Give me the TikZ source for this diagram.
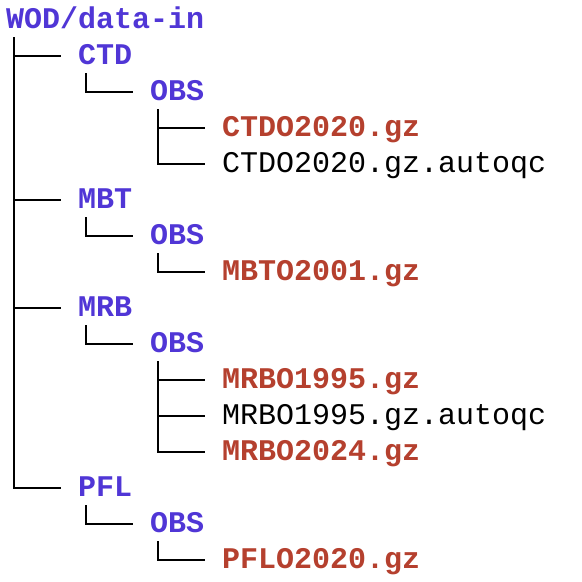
\documentclass[tikz,border=0pt]{standalone}
\usepackage{fontspec}
\newfontfamily\treemono{Liberation Mono}
\definecolor{dirc}{HTML}{5036D6}
\definecolor{gzc}{HTML}{B5402E}
\begin{document}
\begin{tikzpicture}[x=1pt,y=-1pt,
  base/.style={anchor=base west,inner sep=0pt,font=\treemono\fontsize{30}{36}\selectfont},
  dir/.style={base,text=dirc,font=\treemono\bfseries\fontsize{30}{36}\selectfont},
  gz/.style={base,text=gzc,font=\treemono\bfseries\fontsize{30}{36}\selectfont},
  plain/.style={base,text=black},
  tree/.style={draw=black,line width=1.8pt}]
\useasboundingbox (0,0) rectangle (582,582);
\node[dir]   (root) at (6,28)    {WOD/data-in};
\node[dir]   (ctd)  at (78,64)   {CTD};
\node[dir]   (o1)   at (150,100) {OBS};
\node[gz]    (f1)   at (222,136) {CTDO2020.gz};
\node[plain] (f2)   at (222,172) {CTDO2020.gz.autoqc};
\node[dir]   (mbt)  at (78,208)  {MBT};
\node[dir]   (o2)   at (150,244) {OBS};
\node[gz]    (f3)   at (222,280) {MBTO2001.gz};
\node[dir]   (mrb)  at (78,316)  {MRB};
\node[dir]   (o3)   at (150,352) {OBS};
\node[gz]    (f4)   at (222,388) {MRBO1995.gz};
\node[plain] (f5)   at (222,424) {MRBO1995.gz.autoqc};
\node[gz]    (f6)   at (222,460) {MRBO2024.gz};
\node[dir]   (pfl)  at (78,496)  {PFL};
\node[dir]   (o4)   at (150,532) {OBS};
\node[gz]    (f7)   at (222,568) {PFLO2020.gz};
\foreach \p/\c in {root/ctd,root/mbt,root/mrb,root/pfl,
                   ctd/o1,mbt/o2,mrb/o3,pfl/o4,
                   o1/f1,o1/f2,o2/f3,o3/f4,o3/f5,o3/f6,o4/f7}
  \draw[tree] ([shift={(8pt,-9pt)}]\p.base west) |- ([shift={(-17pt,8pt)}]\c.base west);
\end{tikzpicture}
\end{document}
